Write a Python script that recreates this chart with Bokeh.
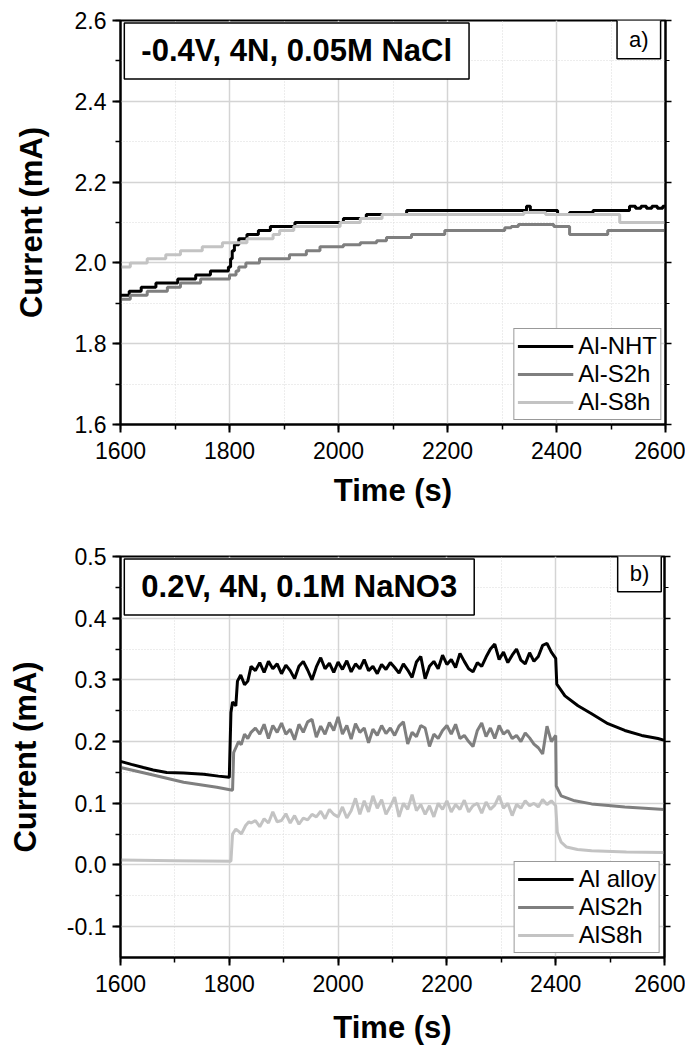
from bokeh.plotting import figure
from bokeh.layouts import column
from bokeh.models import (Label, Legend, LegendItem, LinearAxis, SingleIntervalTicker,
                          NumeralTickFormatter, CustomJSTickFormatter, Range1d, ColumnDataSource)
from bokeh.embed import file_html
from bokeh.resources import INLINE

FONT = "Liberation Sans"
BLACK, GRAY, LIGHT = "#000000", "#7f7f7f", "#c3c3c3"

# ---------------- Panel a) data (step change points) ----------------
nht_t = [1600, 1616, 1638, 1665, 1705, 1738, 1765, 1798, 1802, 1805, 1809, 1817, 1832, 1853,
         1875, 1920, 2009, 2051, 2125, 2345, 2352, 2402, 2424, 2467, 2534, 2545, 2555, 2565,
         2575, 2585, 2595, 2600]
nht_v = [1.92, 1.93, 1.94, 1.95, 1.96, 1.97, 1.98, 1.99, 2.01, 2.03, 2.045, 2.06, 2.07, 2.08,
         2.09, 2.10, 2.11, 2.12, 2.13, 2.14, 2.13, 2.12, 2.125, 2.13, 2.14, 2.135, 2.14, 2.135,
         2.14, 2.135, 2.14, 2.14]

s2h_t = [1600, 1618, 1649, 1686, 1710, 1747, 1800, 1812, 1817, 1830, 1855, 1910, 1941, 1966,
         2009, 2040, 2070, 2088, 2134, 2195, 2305, 2317, 2330, 2395, 2424, 2494, 2600]
s2h_v = [1.91, 1.92, 1.93, 1.94, 1.95, 1.96, 1.97, 1.98, 1.99, 2.00, 2.01, 2.02, 2.03, 2.04,
         2.045, 2.05, 2.055, 2.063, 2.07, 2.08, 2.087, 2.09, 2.095, 2.09, 2.07, 2.08, 2.08]

s8h_t = [1600, 1618, 1649, 1683, 1710, 1750, 1787, 1832, 1880, 1892, 1918, 2003, 2040, 2080,
         2340, 2380, 2516, 2600]
s8h_v = [1.99, 2.00, 2.01, 2.02, 2.03, 2.04, 2.05, 2.06, 2.07, 2.08, 2.09, 2.10, 2.11, 2.12,
         2.125, 2.12, 2.10, 2.10]

# ---------------- Panel b) data ----------------
noisy_t = list(range(1840, 2401, 8))

alloy_head_t = [1600, 1620, 1642, 1660, 1685, 1716, 1753, 1780, 1800, 1803, 1806, 1812, 1815,
                1821, 1828, 1834]
alloy_head_v = [0.168, 0.163, 0.158, 0.154, 0.150, 0.149, 0.147, 0.144, 0.142, 0.247, 0.264,
                0.258, 0.298, 0.308, 0.292, 0.298]
alloy_noisy_v = [0.322, 0.315, 0.328, 0.312, 0.330, 0.318, 0.326, 0.310, 0.324, 0.315, 0.302,
                 0.322, 0.330, 0.316, 0.300, 0.321, 0.336, 0.318, 0.327, 0.312, 0.329, 0.317,
                 0.331, 0.313, 0.326, 0.318, 0.333, 0.315, 0.322, 0.310, 0.325, 0.317, 0.328,
                 0.320, 0.311, 0.326, 0.316, 0.304, 0.329, 0.338, 0.302, 0.322, 0.330, 0.318,
                 0.340, 0.325, 0.333, 0.320, 0.343, 0.330, 0.318, 0.313, 0.328, 0.322, 0.337,
                 0.350, 0.358, 0.333, 0.345, 0.328, 0.340, 0.350, 0.332, 0.326, 0.344, 0.330,
                 0.338, 0.356, 0.359, 0.345, 0.335]
alloy_tail_t = [2402, 2417, 2441, 2466, 2496, 2527, 2558, 2588, 2600]
alloy_tail_v = [0.293, 0.274, 0.258, 0.245, 0.229, 0.218, 0.210, 0.205, 0.202]

s2_head_t = [1600, 1654, 1716, 1777, 1806, 1808, 1812, 1817, 1822, 1828, 1834]
s2_head_v = [0.158, 0.147, 0.134, 0.126, 0.121, 0.182, 0.190, 0.200, 0.195, 0.212, 0.205]
s2_noisy_v = [0.215, 0.222, 0.212, 0.228, 0.205, 0.226, 0.215, 0.230, 0.212, 0.220, 0.203,
              0.228, 0.215, 0.232, 0.236, 0.207, 0.225, 0.212, 0.231, 0.218, 0.240, 0.212,
              0.226, 0.204, 0.229, 0.215, 0.222, 0.198, 0.220, 0.210, 0.226, 0.213, 0.222,
              0.210, 0.225, 0.232, 0.196, 0.215, 0.208, 0.226, 0.222, 0.192, 0.212, 0.205,
              0.218, 0.226, 0.212, 0.228, 0.205, 0.210, 0.200, 0.192, 0.218, 0.230, 0.208,
              0.222, 0.205, 0.226, 0.212, 0.218, 0.205, 0.210, 0.200, 0.214, 0.206, 0.196,
              0.190, 0.180, 0.225, 0.200, 0.210]
s2_tail_t = [2401, 2410, 2435, 2466, 2527, 2600]
s2_tail_v = [0.128, 0.112, 0.104, 0.099, 0.094, 0.090]

s8_head_t = [1600, 1700, 1803, 1806, 1812, 1818, 1822, 1830, 1836]
s8_head_v = [0.008, 0.007, 0.006, 0.050, 0.058, 0.054, 0.050, 0.064, 0.070]
s8_noisy_v = [0.068, 0.072, 0.062, 0.075, 0.068, 0.086, 0.070, 0.072, 0.083, 0.068, 0.080,
              0.066, 0.076, 0.073, 0.082, 0.078, 0.087, 0.075, 0.090, 0.082, 0.078, 0.094,
              0.076, 0.088, 0.108, 0.082, 0.104, 0.086, 0.112, 0.092, 0.106, 0.082, 0.095,
              0.110, 0.078, 0.100, 0.090, 0.114, 0.088, 0.098, 0.082, 0.096, 0.078, 0.100,
              0.090, 0.104, 0.086, 0.098, 0.090, 0.105, 0.086, 0.096, 0.100, 0.084, 0.102,
              0.090, 0.097, 0.112, 0.092, 0.100, 0.080, 0.098, 0.092, 0.104, 0.096, 0.100,
              0.094, 0.106, 0.098, 0.104, 0.096]
s8_tail_t = [2403, 2410, 2420, 2440, 2466, 2530, 2600]
s8_tail_v = [0.053, 0.037, 0.029, 0.025, 0.023, 0.021, 0.020]

x_ticks_major = 200


def style(p, y_interval, xlabel_standoff, ylabel_standoff):
    p.outline_line_color = "black"
    p.outline_line_width = 2
    p.background_fill_color = "white"
    for ax in (p.xaxis[0], p.yaxis[0]):
        ax.axis_line_width = 2
        ax.major_tick_line_width = 2
        ax.minor_tick_line_width = 1.5
        ax.major_tick_out = 8
        ax.major_tick_in = 0
        ax.minor_tick_out = 5
        ax.minor_tick_in = 0
        ax.major_label_text_font = FONT
        ax.major_label_text_font_size = "23px"
        ax.major_label_text_color = "black"
        ax.axis_label_text_font = FONT
        ax.axis_label_text_font_style = "bold"
        ax.axis_label_text_font_size = "31px"
        ax.axis_label_text_color = "black"
        ax.major_label_standoff = 6
    p.xaxis[0].major_label_standoff = 9
    p.xaxis[0].axis_label_standoff = xlabel_standoff
    p.yaxis[0].axis_label_standoff = ylabel_standoff
    p.xaxis[0].ticker = SingleIntervalTicker(interval=x_ticks_major, num_minor_ticks=2)
    p.yaxis[0].ticker = SingleIntervalTicker(interval=y_interval, num_minor_ticks=2)
    p.yaxis[0].formatter = NumeralTickFormatter(format="0.0")
    p.xgrid.ticker = p.xaxis[0].ticker
    p.ygrid.ticker = p.yaxis[0].ticker
    for g in (p.xgrid[0], p.ygrid[0]):
        g.grid_line_color = "#d4d4d4"
        g.grid_line_width = 1.5
        g.minor_grid_line_color = "#dadada"
        g.minor_grid_line_dash = "1 2"
        g.minor_grid_line_width = 1
    ra = LinearAxis(ticker=p.yaxis[0].ticker, formatter=CustomJSTickFormatter(code="return ''"))
    ra.axis_line_width = 2
    ra.major_tick_out = 6
    ra.major_tick_in = 0
    ra.minor_tick_out = 4
    ra.minor_tick_in = 0
    ra.major_tick_line_width = 1.5
    ra.major_label_standoff = 0
    ra.major_label_text_font_size = "1px"
    p.add_layout(ra, "right")


def add_legend(p, renderers, names):
    items = [LegendItem(label=n, renderers=[r]) for n, r in zip(names, renderers)]
    leg = Legend(items=items, location="bottom_right")
    leg.label_text_font = FONT
    leg.label_text_font_size = "24px"
    leg.label_text_color = "black"
    leg.glyph_width = 56
    leg.glyph_height = 28
    leg.label_height = 28
    leg.label_standoff = 5
    leg.spacing = 0
    leg.padding = 3
    leg.margin = 4
    leg.border_line_color = "#333333"
    leg.border_line_width = 1.5
    leg.background_fill_alpha = 1
    p.add_layout(leg)


def add_box(p, x, y, text, size, bold, anchor, pad):
    lab = Label(x=x, y=y, text=text, text_font=FONT, text_font_size=size,
                text_font_style="bold" if bold else "normal", text_color="black",
                anchor=anchor, border_line_color="black", border_line_width=1.5,
                background_fill_color="white", padding=pad)
    p.add_layout(lab)


LW = 3

# ---------------- Figure a ----------------
p1 = figure(frame_width=545, frame_height=404, output_backend="svg", toolbar_location=None,
            x_range=Range1d(1600, 2600), y_range=Range1d(1.6, 2.6),
            min_border_left=120, min_border_top=20, min_border_bottom=90, min_border_right=20,
            x_axis_label="Time (s)", y_axis_label="Current (mA)")
style(p1, 0.2, 11, 23)
r1 = p1.step(nht_t, nht_v, mode="after", line_color=BLACK, line_width=LW)
r2 = p1.step(s2h_t, s2h_v, mode="after", line_color=GRAY, line_width=LW)
r3 = p1.step(s8h_t, s8h_v, mode="after", line_color=LIGHT, line_width=LW)
add_legend(p1, [r1, r2, r3], ["Al-NHT", "Al-S2h", "Al-S8h"])
add_box(p1, 1607, 2.594, "-0.4V, 4N, 0.05M NaCl", "31px", True, "top_left",
        dict(left=17, right=17, top=10, bottom=11))
add_box(p1, 2591, 2.602, "a)", "22px", False, "top_right",
        dict(left=12, right=12, top=7, bottom=7))

# ---------------- Figure b ----------------
p2 = figure(frame_width=544, frame_height=401, output_backend="svg", toolbar_location=None,
            x_range=Range1d(1600, 2600), y_range=Range1d(-0.15, 0.5),
            min_border_left=118, min_border_top=42, min_border_bottom=84, min_border_right=23,
            x_axis_label="Time (s)", y_axis_label="Current (mA)")
style(p2, 0.1, 15, 21)
src_a = ColumnDataSource(dict(t=alloy_head_t + noisy_t + alloy_tail_t,
                              v=alloy_head_v + alloy_noisy_v + alloy_tail_v))
src_2 = ColumnDataSource(dict(t=s2_head_t + noisy_t + s2_tail_t,
                              v=s2_head_v + s2_noisy_v + s2_tail_v))
src_8 = ColumnDataSource(dict(t=s8_head_t + noisy_t + s8_tail_t,
                              v=s8_head_v + s8_noisy_v + s8_tail_v))
q1 = p2.line("t", "v", source=src_a, line_color=BLACK, line_width=LW)
q2 = p2.line("t", "v", source=src_2, line_color=GRAY, line_width=LW)
q3 = p2.line("t", "v", source=src_8, line_color=LIGHT, line_width=LW)
add_legend(p2, [q1, q2, q3], ["Al alloy", "AlS2h", "AlS8h"])
add_box(p2, 1607, 0.496, "0.2V, 4N, 0.1M NaNO3", "31px", True, "top_left",
        dict(left=17, right=17, top=10, bottom=11))
add_box(p2, 2594, 0.503, "b)", "22px", False, "top_right",
        dict(left=12, right=12, top=6, bottom=6))

layout = column(p1, p2, spacing=0)
open("out.html", "w").write(file_html(layout, INLINE))
